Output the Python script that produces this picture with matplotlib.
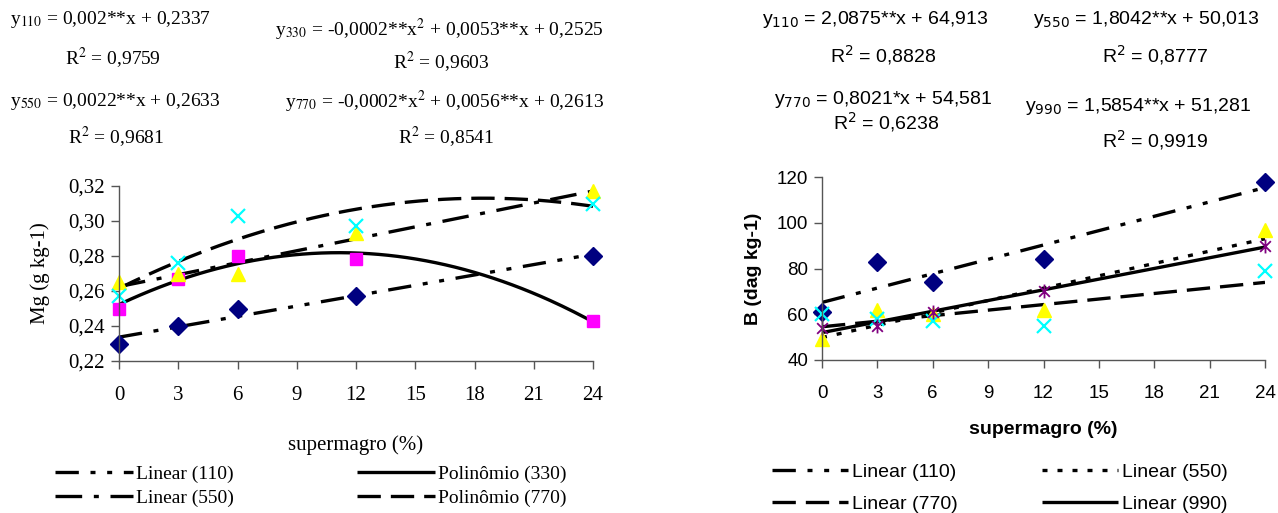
import numpy as np
import matplotlib.pyplot as plt
from matplotlib.path import Path

W, H = 1278, 513

# supermagro doses (%)
dose = [0, 3, 6, 12, 24]

# Mg (g kg-1) per treatment
mg_110 = [0.230, 0.240, 0.250, 0.257, 0.280]
mg_330 = [0.250, 0.267, 0.280, 0.278, 0.243]
mg_550 = [0.265, 0.270, 0.270, 0.293, 0.317]
mg_770 = [0.257, 0.276, 0.303, 0.297, 0.310]

# B (dag kg-1) per treatment
b_110 = [61, 83, 74, 84, 118]
b_550 = [49, 62, 60, 62, 97]
b_770 = [60, 58, 57, 55, 79]
b_990 = [54, 55, 61, 70, 90]

mg_ticks = [0.22, 0.24, 0.26, 0.28, 0.30, 0.32]
b_ticks = [40, 60, 80, 100, 120]
x_ticks = [0, 3, 6, 9, 12, 15, 18, 21, 24]

SERIF = 'Liberation Serif'
SANS = 'Liberation Sans'
AXIS_COLOR = '#555555'

# asterisk marker: x plus vertical bar
star = Path([(-1, -1), (1, 1), (-1, 1), (1, -1), (0, -1.3), (0, 1.3)],
            [Path.MOVETO, Path.LINETO] * 3)

DASH_DOT_DOT = (7, 3.5, 1.5, 3.5, 1.5, 3.5)
DASH_DOT = (8, 3.5, 1.5, 3.5)
LONG_DASH = (7, 3)
SQUARE_DOT = (1.5, 3)


def fx(px):
    return px / W


def fy(py):
    return 1 - py / H


def trend(ax, y, deg, dashes, label):
    coef = np.polyfit(dose, y, deg)
    xs = np.linspace(0, 24, 200)
    line, = ax.plot(xs, np.polyval(coef, xs), color='black', lw=2.4,
                    label=label, solid_capstyle='butt')
    if dashes:
        line.set_dashes(dashes)
        line.set_dash_capstyle('butt')
    return line


def style_axis(ax, family, size):
    for s in ['top', 'right']:
        ax.spines[s].set_visible(False)
    for s in ['left', 'bottom']:
        ax.spines[s].set_color(AXIS_COLOR)
        ax.spines[s].set_linewidth(1)
    ax.tick_params(direction='out', length=6, width=1, color=AXIS_COLOR,
                   labelsize=size)
    ax.tick_params(axis='x', pad=12)
    ax.tick_params(axis='y', pad=4)
    for lab in ax.get_xticklabels() + ax.get_yticklabels():
        lab.set_fontfamily(family)


fig = plt.figure(figsize=(W / 100, H / 100), dpi=100)

# ---------------- left panel: Mg ----------------
ax1 = fig.add_axes([fx(119), fy(361), (593 - 119) / W, (361 - 186) / H])
ax1.set_xlim(0, 24)
ax1.set_ylim(0.22, 0.32)
ax1.set_xticks(x_ticks)
ax1.set_yticks(mg_ticks)
ax1.set_yticklabels([f"{v:.2f}".replace('.', ',') for v in mg_ticks])

l110 = trend(ax1, mg_110, 1, DASH_DOT_DOT, 'Linear (110)')
l330 = trend(ax1, mg_330, 2, None, 'Polinômio (330)')
l550 = trend(ax1, mg_550, 1, DASH_DOT, 'Linear (550)')
l770 = trend(ax1, mg_770, 2, LONG_DASH, 'Polinômio (770)')

ax1.plot(dose, mg_110, 'D', color='#000080', ms=9, clip_on=False)
ax1.plot(dose, mg_330, 's', color='#FF00FF', ms=9, clip_on=False)
ax1.plot(dose, mg_550, '^', color='#FFFF00', ms=10, clip_on=False)
ax1.plot(dose, mg_770, 'x', color='#00FFFF', ms=10, mew=1.6, clip_on=False)

style_axis(ax1, SERIF, 15)
ax1.set_xlabel('supermagro (%)', fontfamily=SERIF, fontsize=15, va='center')
ax1.xaxis.set_label_coords(0.5, (361 - 445) / 175)
ax1.set_ylabel('Mg (g kg-1)', fontfamily=SERIF, fontsize=15, va='center')
ax1.yaxis.set_label_coords((40 - 119) / 474, 0.5)

eq_left = dict(fontfamily=SERIF, fontsize=14, math_fontfamily='stix',
               va='center')
fig.text(fx(10), fy(20), r'y$_{110}$ = 0,002**x + 0,2337', ha='left', **eq_left)
fig.text(fx(113), fy(58), r'R$^2$ = 0,9759', ha='center', **eq_left)
fig.text(fx(275), fy(30), r'y$_{330}$ = -0,0002**x$^2$ + 0,0053**x + 0,2525',
         ha='left', **eq_left)
fig.text(fx(441), fy(62), r'R$^2$ = 0,9603', ha='center', **eq_left)
fig.text(fx(10), fy(102), r'y$_{550}$ = 0,0022**x + 0,2633', ha='left', **eq_left)
fig.text(fx(116), fy(137), r'R$^2$ = 0,9681', ha='center', **eq_left)
fig.text(fx(285), fy(102), r'y$_{770}$ = -0,0002*x$^2$ + 0,0056**x + 0,2613',
         ha='left', **eq_left)
fig.text(fx(446), fy(137), r'R$^2$ = 0,8541', ha='center', **eq_left)

leg_left = dict(frameon=False, loc='center left', borderpad=0,
                borderaxespad=0, handlelength=4.0, handletextpad=0.15,
                labelspacing=0.3, prop={'family': SERIF, 'size': 14})
fig.legend([l110, l550], ['Linear (110)', 'Linear (550)'],
           bbox_to_anchor=(fx(55), fy(486)), **leg_left)
fig.legend([l330, l770], ['Polinômio (330)', 'Polinômio (770)'],
           bbox_to_anchor=(fx(357), fy(486)), **leg_left)

# ---------------- right panel: B ----------------
ax2 = fig.add_axes([fx(822), fy(360), (1265 - 822) / W, (360 - 177) / H])
ax2.set_xlim(0, 24)
ax2.set_ylim(40, 120)
ax2.set_xticks(x_ticks)
ax2.set_yticks(b_ticks)

r110 = trend(ax2, b_110, 1, DASH_DOT_DOT, 'Linear (110)')
r550 = trend(ax2, b_550, 1, SQUARE_DOT, 'Linear (550)')
r770 = trend(ax2, b_770, 1, LONG_DASH, 'Linear (770)')
r990 = trend(ax2, b_990, 1, None, 'Linear (990)')

ax2.plot(dose, b_110, 'D', color='#000080', ms=9, clip_on=False)
ax2.plot(dose, b_550, '^', color='#FFFF00', ms=10, clip_on=False)
ax2.plot(dose, b_770, 'x', color='#00FFFF', ms=10, mew=1.6, clip_on=False)
ax2.plot(dose, b_990, marker=star, ls='none', color='#800080', ms=10,
         mew=1.3, clip_on=False)

style_axis(ax2, SANS, 13.5)
ax2.set_xlabel('supermagro (%)', fontfamily=SANS, fontsize=14,
               fontweight='bold', va='center')
ax2.xaxis.set_label_coords(0.5, (360 - 430) / 183)
ax2.set_ylabel('B (dag kg-1)', fontfamily=SANS, fontsize=14,
               fontweight='bold', va='center')
ax2.yaxis.set_label_coords((754 - 822) / 443, 0.5)

eq_right = dict(fontfamily=SANS, fontsize=14, math_fontfamily='dejavusans',
                va='center')
fig.text(fx(762), fy(20), r'y$_{110}$ = 2,0875**x + 64,913', ha='left', **eq_right)
fig.text(fx(883), fy(55), r'R$^2$ = 0,8828', ha='center', **eq_right)
fig.text(fx(1033), fy(20), r'y$_{550}$ = 1,8042**x + 50,013', ha='left', **eq_right)
fig.text(fx(1155), fy(55), r'R$^2$ = 0,8777', ha='center', **eq_right)
fig.text(fx(774), fy(100), r'y$_{770}$ = 0,8021*x + 54,581', ha='left', **eq_right)
fig.text(fx(886), fy(122), r'R$^2$ = 0,6238', ha='center', **eq_right)
fig.text(fx(1025), fy(107), r'y$_{990}$ = 1,5854**x + 51,281', ha='left', **eq_right)
fig.text(fx(1155), fy(140), r'R$^2$ = 0,9919', ha='center', **eq_right)

leg_right = dict(frameon=False, loc='center left', borderpad=0,
                 borderaxespad=0, handlelength=3.9, handletextpad=0.2,
                 labelspacing=0.75, prop={'family': SANS, 'size': 14})
fig.legend([r110, r770], ['Linear (110)', 'Linear (770)'],
           bbox_to_anchor=(fx(772), fy(488)), **leg_right)
fig.legend([r550, r990], ['Linear (550)', 'Linear (990)'],
           bbox_to_anchor=(fx(1042), fy(488)), **leg_right)

fig.savefig('out.png', dpi=100)
